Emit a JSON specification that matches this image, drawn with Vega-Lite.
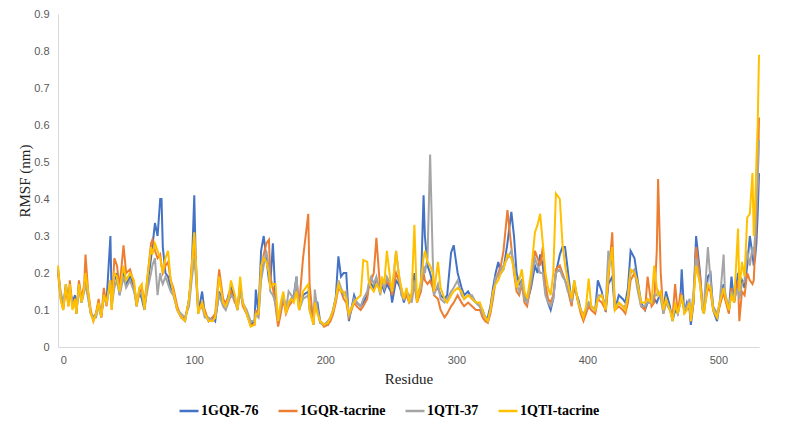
{
"$schema": "https://vega.github.io/schema/vega-lite/v6.json",
"width": 701, "height": 333,
"autosize": "none",
"padding": {"left": 58, "top": 14, "right": 30, "bottom": 85},
"background": "white",
"config": {"view": {"stroke": null}},
"data": {"values": [
{"r":-4,"1GQR-76":0.21,"1GQR-tacrine":0.2,"1QTI-37":0.21,"1QTI-tacrine":0.22},
{"r":-2,"1GQR-76":0.14,"1GQR-tacrine":0.13,"1QTI-37":0.15,"1QTI-tacrine":0.13},
{"r":0,"1GQR-76":0.11,"1GQR-tacrine":0.1,"1QTI-37":0.12,"1QTI-tacrine":0.1},
{"r":2,"1GQR-76":0.17,"1GQR-tacrine":0.16,"1QTI-37":0.15,"1QTI-tacrine":0.17},
{"r":4,"1GQR-76":0.12,"1GQR-tacrine":0.11,"1QTI-37":0.13,"1QTI-tacrine":0.11},
{"r":5,"1GQR-76":0.16,"1GQR-tacrine":0.18,"1QTI-37":0.15,"1QTI-tacrine":0.17},
{"r":7,"1GQR-76":0.12,"1GQR-tacrine":0.11,"1QTI-37":0.12,"1QTI-tacrine":0.1},
{"r":9,"1GQR-76":0.14,"1GQR-tacrine":0.13,"1QTI-37":0.12,"1QTI-tacrine":0.13},
{"r":10,"1GQR-76":0.09,"1GQR-tacrine":0.09,"1QTI-37":0.1,"1QTI-tacrine":0.09},
{"r":12,"1GQR-76":0.17,"1GQR-tacrine":0.18,"1QTI-37":0.16,"1QTI-tacrine":0.17},
{"r":14,"1GQR-76":0.12,"1GQR-tacrine":0.13,"1QTI-37":0.12,"1QTI-tacrine":0.12},
{"r":16,"1GQR-76":0.16,"1GQR-tacrine":0.17,"1QTI-37":0.15,"1QTI-tacrine":0.16},
{"r":17,"1GQR-76":0.19,"1GQR-tacrine":0.25,"1QTI-37":0.17,"1QTI-tacrine":0.2},
{"r":19,"1GQR-76":0.14,"1GQR-tacrine":0.15,"1QTI-37":0.13,"1QTI-tacrine":0.15},
{"r":21,"1GQR-76":0.09,"1GQR-tacrine":0.1,"1QTI-37":0.09,"1QTI-tacrine":0.09},
{"r":23,"1GQR-76":0.08,"1GQR-tacrine":0.07,"1QTI-37":0.08,"1QTI-tacrine":0.07},
{"r":25,"1GQR-76":0.09,"1GQR-tacrine":0.09,"1QTI-37":0.08,"1QTI-tacrine":0.09},
{"r":27,"1GQR-76":0.12,"1GQR-tacrine":0.13,"1QTI-37":0.11,"1QTI-tacrine":0.12},
{"r":29,"1GQR-76":0.08,"1GQR-tacrine":0.08,"1QTI-37":0.09,"1QTI-tacrine":0.08},
{"r":31,"1GQR-76":0.14,"1GQR-tacrine":0.16,"1QTI-37":0.13,"1QTI-tacrine":0.14},
{"r":33,"1GQR-76":0.12,"1GQR-tacrine":0.11,"1QTI-37":0.12,"1QTI-tacrine":0.12},
{"r":36,"1GQR-76":0.3,"1GQR-tacrine":0.18,"1QTI-37":0.17,"1QTI-tacrine":0.18},
{"r":37,"1GQR-76":0.12,"1GQR-tacrine":0.1,"1QTI-37":0.11,"1QTI-tacrine":0.1},
{"r":39,"1GQR-76":0.18,"1GQR-tacrine":0.24,"1QTI-37":0.16,"1QTI-tacrine":0.2},
{"r":41,"1GQR-76":0.2,"1GQR-tacrine":0.22,"1QTI-37":0.18,"1QTI-tacrine":0.19},
{"r":43,"1GQR-76":0.14,"1GQR-tacrine":0.16,"1QTI-37":0.14,"1QTI-tacrine":0.15},
{"r":46,"1GQR-76":0.21,"1GQR-tacrine":0.275,"1QTI-37":0.19,"1QTI-tacrine":0.22},
{"r":48,"1GQR-76":0.17,"1GQR-tacrine":0.2,"1QTI-37":0.16,"1QTI-tacrine":0.18},
{"r":51,"1GQR-76":0.19,"1GQR-tacrine":0.21,"1QTI-37":0.18,"1QTI-tacrine":0.2},
{"r":54,"1GQR-76":0.16,"1GQR-tacrine":0.17,"1QTI-37":0.15,"1QTI-tacrine":0.18},
{"r":56,"1GQR-76":0.11,"1GQR-tacrine":0.12,"1QTI-37":0.12,"1QTI-tacrine":0.11},
{"r":58,"1GQR-76":0.15,"1GQR-tacrine":0.14,"1QTI-37":0.15,"1QTI-tacrine":0.16},
{"r":60,"1GQR-76":0.13,"1GQR-tacrine":0.16,"1QTI-37":0.14,"1QTI-tacrine":0.17},
{"r":62,"1GQR-76":0.1,"1GQR-tacrine":0.12,"1QTI-37":0.11,"1QTI-tacrine":0.1},
{"r":64,"1GQR-76":0.16,"1GQR-tacrine":0.18,"1QTI-37":0.15,"1QTI-tacrine":0.18},
{"r":67,"1GQR-76":0.24,"1GQR-tacrine":0.28,"1QTI-37":0.2,"1QTI-tacrine":0.27},
{"r":68,"1GQR-76":0.27,"1GQR-tacrine":0.29,"1QTI-37":0.22,"1QTI-tacrine":0.25},
{"r":70,"1GQR-76":0.335,"1GQR-tacrine":0.26,"1QTI-37":0.24,"1QTI-tacrine":0.28},
{"r":72,"1GQR-76":0.3,"1GQR-tacrine":0.24,"1QTI-37":0.14,"1QTI-tacrine":0.26},
{"r":74,"1GQR-76":0.4,"1GQR-tacrine":0.25,"1QTI-37":0.2,"1QTI-tacrine":0.24},
{"r":75,"1GQR-76":0.4,"1GQR-tacrine":0.22,"1QTI-37":0.18,"1QTI-tacrine":0.22},
{"r":76,"1GQR-76":0.27,"1GQR-tacrine":0.2,"1QTI-37":0.17,"1QTI-tacrine":0.2},
{"r":78,"1GQR-76":0.2,"1GQR-tacrine":0.22,"1QTI-37":0.19,"1QTI-tacrine":0.24},
{"r":80,"1GQR-76":0.19,"1GQR-tacrine":0.23,"1QTI-37":0.17,"1QTI-tacrine":0.26},
{"r":82,"1GQR-76":0.16,"1GQR-tacrine":0.18,"1QTI-37":0.15,"1QTI-tacrine":0.18},
{"r":84,"1GQR-76":0.15,"1GQR-tacrine":0.16,"1QTI-37":0.14,"1QTI-tacrine":0.15},
{"r":87,"1GQR-76":0.1,"1GQR-tacrine":0.11,"1QTI-37":0.1,"1QTI-tacrine":0.1},
{"r":90,"1GQR-76":0.08,"1GQR-tacrine":0.08,"1QTI-37":0.09,"1QTI-tacrine":0.08},
{"r":93,"1GQR-76":0.07,"1GQR-tacrine":0.08,"1QTI-37":0.08,"1QTI-tacrine":0.07},
{"r":96,"1GQR-76":0.13,"1GQR-tacrine":0.12,"1QTI-37":0.11,"1QTI-tacrine":0.13},
{"r":98,"1GQR-76":0.2,"1GQR-tacrine":0.22,"1QTI-37":0.18,"1QTI-tacrine":0.21},
{"r":100,"1GQR-76":0.41,"1GQR-tacrine":0.3,"1QTI-37":0.24,"1QTI-tacrine":0.31},
{"r":101,"1GQR-76":0.25,"1GQR-tacrine":0.22,"1QTI-37":0.2,"1QTI-tacrine":0.25},
{"r":103,"1GQR-76":0.09,"1GQR-tacrine":0.1,"1QTI-37":0.1,"1QTI-tacrine":0.09},
{"r":106,"1GQR-76":0.15,"1GQR-tacrine":0.12,"1QTI-37":0.11,"1QTI-tacrine":0.12},
{"r":108,"1GQR-76":0.09,"1GQR-tacrine":0.1,"1QTI-37":0.08,"1QTI-tacrine":0.09},
{"r":111,"1GQR-76":0.07,"1GQR-tacrine":0.07,"1QTI-37":0.08,"1QTI-tacrine":0.07},
{"r":114,"1GQR-76":0.08,"1GQR-tacrine":0.08,"1QTI-37":0.07,"1QTI-tacrine":0.07},
{"r":116,"1GQR-76":0.07,"1GQR-tacrine":0.09,"1QTI-37":0.08,"1QTI-tacrine":0.08},
{"r":119,"1GQR-76":0.15,"1GQR-tacrine":0.21,"1QTI-37":0.14,"1QTI-tacrine":0.19},
{"r":122,"1GQR-76":0.12,"1GQR-tacrine":0.13,"1QTI-37":0.11,"1QTI-tacrine":0.12},
{"r":124,"1GQR-76":0.11,"1GQR-tacrine":0.12,"1QTI-37":0.1,"1QTI-tacrine":0.11},
{"r":126,"1GQR-76":0.14,"1GQR-tacrine":0.13,"1QTI-37":0.12,"1QTI-tacrine":0.13},
{"r":128,"1GQR-76":0.16,"1GQR-tacrine":0.15,"1QTI-37":0.14,"1QTI-tacrine":0.18},
{"r":131,"1GQR-76":0.13,"1GQR-tacrine":0.12,"1QTI-37":0.13,"1QTI-tacrine":0.14},
{"r":133,"1GQR-76":0.1,"1GQR-tacrine":0.11,"1QTI-37":0.1,"1QTI-tacrine":0.1},
{"r":135,"1GQR-76":0.17,"1GQR-tacrine":0.16,"1QTI-37":0.15,"1QTI-tacrine":0.19},
{"r":137,"1GQR-76":0.12,"1GQR-tacrine":0.11,"1QTI-37":0.12,"1QTI-tacrine":0.12},
{"r":140,"1GQR-76":0.09,"1GQR-tacrine":0.09,"1QTI-37":0.1,"1QTI-tacrine":0.09},
{"r":143,"1GQR-76":0.06,"1GQR-tacrine":0.06,"1QTI-37":0.07,"1QTI-tacrine":0.055},
{"r":146,"1GQR-76":0.07,"1GQR-tacrine":0.06,"1QTI-37":0.07,"1QTI-tacrine":0.06},
{"r":147,"1GQR-76":0.155,"1GQR-tacrine":0.1,"1QTI-37":0.09,"1QTI-tacrine":0.09},
{"r":149,"1GQR-76":0.09,"1GQR-tacrine":0.08,"1QTI-37":0.08,"1QTI-tacrine":0.09},
{"r":151,"1GQR-76":0.26,"1GQR-tacrine":0.2,"1QTI-37":0.18,"1QTI-tacrine":0.22},
{"r":153,"1GQR-76":0.3,"1GQR-tacrine":0.25,"1QTI-37":0.22,"1QTI-tacrine":0.24},
{"r":155,"1GQR-76":0.24,"1GQR-tacrine":0.28,"1QTI-37":0.26,"1QTI-tacrine":0.23},
{"r":157,"1GQR-76":0.18,"1GQR-tacrine":0.29,"1QTI-37":0.21,"1QTI-tacrine":0.2},
{"r":158,"1GQR-76":0.17,"1GQR-tacrine":0.19,"1QTI-37":0.15,"1QTI-tacrine":0.16},
{"r":160,"1GQR-76":0.28,"1GQR-tacrine":0.16,"1QTI-37":0.14,"1QTI-tacrine":0.17},
{"r":162,"1GQR-76":0.13,"1GQR-tacrine":0.11,"1QTI-37":0.12,"1QTI-tacrine":0.17},
{"r":164,"1GQR-76":0.08,"1GQR-tacrine":0.055,"1QTI-37":0.07,"1QTI-tacrine":0.07},
{"r":166,"1GQR-76":0.1,"1GQR-tacrine":0.09,"1QTI-37":0.11,"1QTI-tacrine":0.12},
{"r":168,"1GQR-76":0.14,"1GQR-tacrine":0.13,"1QTI-37":0.14,"1QTI-tacrine":0.15},
{"r":170,"1GQR-76":0.1,"1GQR-tacrine":0.09,"1QTI-37":0.1,"1QTI-tacrine":0.09},
{"r":172,"1GQR-76":0.12,"1GQR-tacrine":0.11,"1QTI-37":0.15,"1QTI-tacrine":0.12},
{"r":174,"1GQR-76":0.13,"1GQR-tacrine":0.12,"1QTI-37":0.14,"1QTI-tacrine":0.13},
{"r":176,"1GQR-76":0.14,"1GQR-tacrine":0.13,"1QTI-37":0.13,"1QTI-tacrine":0.12},
{"r":178,"1GQR-76":0.19,"1GQR-tacrine":0.16,"1QTI-37":0.19,"1QTI-tacrine":0.15},
{"r":180,"1GQR-76":0.1,"1GQR-tacrine":0.11,"1QTI-37":0.1,"1QTI-tacrine":0.1},
{"r":183,"1GQR-76":0.14,"1GQR-tacrine":0.24,"1QTI-37":0.13,"1QTI-tacrine":0.15},
{"r":187,"1GQR-76":0.15,"1GQR-tacrine":0.36,"1QTI-37":0.14,"1QTI-tacrine":0.17},
{"r":188,"1GQR-76":0.11,"1GQR-tacrine":0.17,"1QTI-37":0.1,"1QTI-tacrine":0.1},
{"r":191,"1GQR-76":0.07,"1GQR-tacrine":0.06,"1QTI-37":0.06,"1QTI-tacrine":0.06},
{"r":192,"1GQR-76":0.12,"1GQR-tacrine":0.11,"1QTI-37":0.155,"1QTI-tacrine":0.12},
{"r":194,"1GQR-76":0.12,"1GQR-tacrine":0.1,"1QTI-37":0.1,"1QTI-tacrine":0.09},
{"r":196,"1GQR-76":0.07,"1GQR-tacrine":0.07,"1QTI-37":0.065,"1QTI-tacrine":0.07},
{"r":199,"1GQR-76":0.06,"1GQR-tacrine":0.055,"1QTI-37":0.06,"1QTI-tacrine":0.06},
{"r":202,"1GQR-76":0.06,"1GQR-tacrine":0.06,"1QTI-37":0.07,"1QTI-tacrine":0.065},
{"r":204,"1GQR-76":0.08,"1GQR-tacrine":0.07,"1QTI-37":0.08,"1QTI-tacrine":0.08},
{"r":206,"1GQR-76":0.1,"1GQR-tacrine":0.09,"1QTI-37":0.1,"1QTI-tacrine":0.1},
{"r":208,"1GQR-76":0.135,"1GQR-tacrine":0.12,"1QTI-37":0.13,"1QTI-tacrine":0.13},
{"r":210,"1GQR-76":0.245,"1GQR-tacrine":0.16,"1QTI-37":0.18,"1QTI-tacrine":0.17},
{"r":212,"1GQR-76":0.19,"1GQR-tacrine":0.15,"1QTI-37":0.16,"1QTI-tacrine":0.15},
{"r":214,"1GQR-76":0.2,"1GQR-tacrine":0.13,"1QTI-37":0.14,"1QTI-tacrine":0.15},
{"r":216,"1GQR-76":0.2,"1GQR-tacrine":0.12,"1QTI-37":0.15,"1QTI-tacrine":0.13},
{"r":218,"1GQR-76":0.07,"1GQR-tacrine":0.08,"1QTI-37":0.08,"1QTI-tacrine":0.09},
{"r":222,"1GQR-76":0.14,"1GQR-tacrine":0.12,"1QTI-37":0.13,"1QTI-tacrine":0.12},
{"r":224,"1GQR-76":0.12,"1GQR-tacrine":0.11,"1QTI-37":0.12,"1QTI-tacrine":0.13},
{"r":227,"1GQR-76":0.11,"1GQR-tacrine":0.1,"1QTI-37":0.11,"1QTI-tacrine":0.14},
{"r":229,"1GQR-76":0.12,"1GQR-tacrine":0.11,"1QTI-37":0.13,"1QTI-tacrine":0.235},
{"r":232,"1GQR-76":0.14,"1GQR-tacrine":0.13,"1QTI-37":0.15,"1QTI-tacrine":0.23},
{"r":233,"1GQR-76":0.16,"1GQR-tacrine":0.16,"1QTI-37":0.17,"1QTI-tacrine":0.18},
{"r":235,"1GQR-76":0.17,"1GQR-tacrine":0.18,"1QTI-37":0.19,"1QTI-tacrine":0.16},
{"r":237,"1GQR-76":0.16,"1GQR-tacrine":0.2,"1QTI-37":0.17,"1QTI-tacrine":0.15},
{"r":239,"1GQR-76":0.18,"1GQR-tacrine":0.295,"1QTI-37":0.19,"1QTI-tacrine":0.17},
{"r":242,"1GQR-76":0.15,"1GQR-tacrine":0.15,"1QTI-37":0.14,"1QTI-tacrine":0.15},
{"r":243,"1GQR-76":0.17,"1GQR-tacrine":0.18,"1QTI-37":0.18,"1QTI-tacrine":0.19},
{"r":245,"1GQR-76":0.15,"1GQR-tacrine":0.16,"1QTI-37":0.16,"1QTI-tacrine":0.17},
{"r":247,"1GQR-76":0.17,"1GQR-tacrine":0.18,"1QTI-37":0.19,"1QTI-tacrine":0.26},
{"r":250,"1GQR-76":0.15,"1GQR-tacrine":0.16,"1QTI-37":0.17,"1QTI-tacrine":0.17},
{"r":251,"1GQR-76":0.12,"1GQR-tacrine":0.14,"1QTI-37":0.15,"1QTI-tacrine":0.15},
{"r":254,"1GQR-76":0.18,"1GQR-tacrine":0.2,"1QTI-37":0.26,"1QTI-tacrine":0.26},
{"r":256,"1GQR-76":0.17,"1GQR-tacrine":0.18,"1QTI-37":0.2,"1QTI-tacrine":0.2},
{"r":258,"1GQR-76":0.15,"1GQR-tacrine":0.16,"1QTI-37":0.14,"1QTI-tacrine":0.16},
{"r":260,"1GQR-76":0.12,"1GQR-tacrine":0.13,"1QTI-37":0.13,"1QTI-tacrine":0.13},
{"r":262,"1GQR-76":0.15,"1GQR-tacrine":0.14,"1QTI-37":0.15,"1QTI-tacrine":0.16},
{"r":264,"1GQR-76":0.13,"1GQR-tacrine":0.12,"1QTI-37":0.14,"1QTI-tacrine":0.12},
{"r":266,"1GQR-76":0.14,"1GQR-tacrine":0.13,"1QTI-37":0.12,"1QTI-tacrine":0.15},
{"r":268,"1GQR-76":0.2,"1GQR-tacrine":0.17,"1QTI-37":0.18,"1QTI-tacrine":0.33},
{"r":270,"1GQR-76":0.13,"1GQR-tacrine":0.12,"1QTI-37":0.13,"1QTI-tacrine":0.12},
{"r":273,"1GQR-76":0.17,"1GQR-tacrine":0.15,"1QTI-37":0.16,"1QTI-tacrine":0.18},
{"r":275,"1GQR-76":0.41,"1GQR-tacrine":0.2,"1QTI-37":0.22,"1QTI-tacrine":0.24},
{"r":276,"1GQR-76":0.3,"1GQR-tacrine":0.18,"1QTI-37":0.2,"1QTI-tacrine":0.26},
{"r":278,"1GQR-76":0.22,"1GQR-tacrine":0.17,"1QTI-37":0.24,"1QTI-tacrine":0.23},
{"r":280,"1GQR-76":0.2,"1GQR-tacrine":0.18,"1QTI-37":0.52,"1QTI-tacrine":0.22},
{"r":282,"1GQR-76":0.17,"1GQR-tacrine":0.16,"1QTI-37":0.24,"1QTI-tacrine":0.2},
{"r":283,"1GQR-76":0.15,"1GQR-tacrine":0.14,"1QTI-37":0.14,"1QTI-tacrine":0.15},
{"r":286,"1GQR-76":0.16,"1GQR-tacrine":0.13,"1QTI-37":0.17,"1QTI-tacrine":0.23},
{"r":288,"1GQR-76":0.14,"1GQR-tacrine":0.1,"1QTI-37":0.13,"1QTI-tacrine":0.16},
{"r":291,"1GQR-76":0.13,"1GQR-tacrine":0.08,"1QTI-37":0.12,"1QTI-tacrine":0.13},
{"r":293,"1GQR-76":0.14,"1GQR-tacrine":0.09,"1QTI-37":0.13,"1QTI-tacrine":0.12},
{"r":296,"1GQR-76":0.255,"1GQR-tacrine":0.11,"1QTI-37":0.15,"1QTI-tacrine":0.14},
{"r":298,"1GQR-76":0.275,"1GQR-tacrine":0.12,"1QTI-37":0.16,"1QTI-tacrine":0.15},
{"r":301,"1GQR-76":0.2,"1GQR-tacrine":0.14,"1QTI-37":0.18,"1QTI-tacrine":0.16},
{"r":304,"1GQR-76":0.16,"1GQR-tacrine":0.12,"1QTI-37":0.14,"1QTI-tacrine":0.15},
{"r":306,"1GQR-76":0.14,"1GQR-tacrine":0.11,"1QTI-37":0.13,"1QTI-tacrine":0.13},
{"r":309,"1GQR-76":0.15,"1GQR-tacrine":0.12,"1QTI-37":0.14,"1QTI-tacrine":0.14},
{"r":312,"1GQR-76":0.13,"1GQR-tacrine":0.11,"1QTI-37":0.14,"1QTI-tacrine":0.13},
{"r":315,"1GQR-76":0.12,"1GQR-tacrine":0.1,"1QTI-37":0.12,"1QTI-tacrine":0.12},
{"r":318,"1GQR-76":0.11,"1GQR-tacrine":0.1,"1QTI-37":0.11,"1QTI-tacrine":0.12},
{"r":320,"1GQR-76":0.1,"1GQR-tacrine":0.08,"1QTI-37":0.09,"1QTI-tacrine":0.1},
{"r":322,"1GQR-76":0.08,"1GQR-tacrine":0.07,"1QTI-37":0.08,"1QTI-tacrine":0.08},
{"r":324,"1GQR-76":0.08,"1GQR-tacrine":0.065,"1QTI-37":0.07,"1QTI-tacrine":0.07},
{"r":326,"1GQR-76":0.11,"1GQR-tacrine":0.09,"1QTI-37":0.1,"1QTI-tacrine":0.1},
{"r":328,"1GQR-76":0.16,"1GQR-tacrine":0.13,"1QTI-37":0.14,"1QTI-tacrine":0.15},
{"r":330,"1GQR-76":0.2,"1GQR-tacrine":0.18,"1QTI-37":0.19,"1QTI-tacrine":0.17},
{"r":332,"1GQR-76":0.23,"1GQR-tacrine":0.2,"1QTI-37":0.19,"1QTI-tacrine":0.18},
{"r":334,"1GQR-76":0.2,"1GQR-tacrine":0.22,"1QTI-37":0.21,"1QTI-tacrine":0.2},
{"r":336,"1GQR-76":0.21,"1GQR-tacrine":0.26,"1QTI-37":0.22,"1QTI-tacrine":0.21},
{"r":339,"1GQR-76":0.28,"1GQR-tacrine":0.37,"1QTI-37":0.24,"1QTI-tacrine":0.25},
{"r":342,"1GQR-76":0.365,"1GQR-tacrine":0.27,"1QTI-37":0.26,"1QTI-tacrine":0.24},
{"r":344,"1GQR-76":0.3,"1GQR-tacrine":0.2,"1QTI-37":0.22,"1QTI-tacrine":0.21},
{"r":346,"1GQR-76":0.2,"1GQR-tacrine":0.15,"1QTI-37":0.17,"1QTI-tacrine":0.16},
{"r":348,"1GQR-76":0.17,"1GQR-tacrine":0.14,"1QTI-37":0.15,"1QTI-tacrine":0.18},
{"r":350,"1GQR-76":0.18,"1GQR-tacrine":0.17,"1QTI-37":0.18,"1QTI-tacrine":0.21},
{"r":352,"1GQR-76":0.14,"1GQR-tacrine":0.12,"1QTI-37":0.13,"1QTI-tacrine":0.15},
{"r":354,"1GQR-76":0.12,"1GQR-tacrine":0.11,"1QTI-37":0.12,"1QTI-tacrine":0.13},
{"r":357,"1GQR-76":0.16,"1GQR-tacrine":0.17,"1QTI-37":0.18,"1QTI-tacrine":0.2},
{"r":360,"1GQR-76":0.22,"1GQR-tacrine":0.26,"1QTI-37":0.24,"1QTI-tacrine":0.31},
{"r":362,"1GQR-76":0.2,"1GQR-tacrine":0.24,"1QTI-37":0.22,"1QTI-tacrine":0.33},
{"r":364,"1GQR-76":0.25,"1GQR-tacrine":0.22,"1QTI-37":0.2,"1QTI-tacrine":0.36},
{"r":366,"1GQR-76":0.22,"1GQR-tacrine":0.27,"1QTI-37":0.2,"1QTI-tacrine":0.28},
{"r":368,"1GQR-76":0.15,"1GQR-tacrine":0.17,"1QTI-37":0.14,"1QTI-tacrine":0.2},
{"r":370,"1GQR-76":0.12,"1GQR-tacrine":0.13,"1QTI-37":0.12,"1QTI-tacrine":0.16},
{"r":372,"1GQR-76":0.1,"1GQR-tacrine":0.12,"1QTI-37":0.11,"1QTI-tacrine":0.14},
{"r":374,"1GQR-76":0.13,"1GQR-tacrine":0.14,"1QTI-37":0.13,"1QTI-tacrine":0.2},
{"r":376,"1GQR-76":0.2,"1GQR-tacrine":0.21,"1QTI-37":0.2,"1QTI-tacrine":0.415},
{"r":379,"1GQR-76":0.25,"1GQR-tacrine":0.22,"1QTI-37":0.21,"1QTI-tacrine":0.4},
{"r":381,"1GQR-76":0.27,"1GQR-tacrine":0.2,"1QTI-37":0.19,"1QTI-tacrine":0.28},
{"r":383,"1GQR-76":0.27,"1GQR-tacrine":0.18,"1QTI-37":0.18,"1QTI-tacrine":0.22},
{"r":385,"1GQR-76":0.21,"1GQR-tacrine":0.16,"1QTI-37":0.15,"1QTI-tacrine":0.18},
{"r":386,"1GQR-76":0.18,"1GQR-tacrine":0.14,"1QTI-37":0.15,"1QTI-tacrine":0.16},
{"r":388,"1GQR-76":0.12,"1GQR-tacrine":0.11,"1QTI-37":0.12,"1QTI-tacrine":0.13},
{"r":390,"1GQR-76":0.16,"1GQR-tacrine":0.17,"1QTI-37":0.18,"1QTI-tacrine":0.18},
{"r":393,"1GQR-76":0.13,"1GQR-tacrine":0.12,"1QTI-37":0.12,"1QTI-tacrine":0.12},
{"r":395,"1GQR-76":0.1,"1GQR-tacrine":0.09,"1QTI-37":0.1,"1QTI-tacrine":0.1},
{"r":397,"1GQR-76":0.08,"1GQR-tacrine":0.07,"1QTI-37":0.09,"1QTI-tacrine":0.08},
{"r":399,"1GQR-76":0.1,"1GQR-tacrine":0.09,"1QTI-37":0.1,"1QTI-tacrine":0.11},
{"r":401,"1GQR-76":0.12,"1GQR-tacrine":0.11,"1QTI-37":0.12,"1QTI-tacrine":0.185},
{"r":403,"1GQR-76":0.11,"1GQR-tacrine":0.1,"1QTI-37":0.11,"1QTI-tacrine":0.11},
{"r":406,"1GQR-76":0.1,"1GQR-tacrine":0.09,"1QTI-37":0.1,"1QTI-tacrine":0.1},
{"r":408,"1GQR-76":0.18,"1GQR-tacrine":0.13,"1QTI-37":0.14,"1QTI-tacrine":0.13},
{"r":411,"1GQR-76":0.15,"1GQR-tacrine":0.12,"1QTI-37":0.14,"1QTI-tacrine":0.14},
{"r":414,"1GQR-76":0.095,"1GQR-tacrine":0.1,"1QTI-37":0.11,"1QTI-tacrine":0.1},
{"r":416,"1GQR-76":0.17,"1GQR-tacrine":0.18,"1QTI-37":0.26,"1QTI-tacrine":0.2},
{"r":419,"1GQR-76":0.19,"1GQR-tacrine":0.31,"1QTI-37":0.22,"1QTI-tacrine":0.27},
{"r":421,"1GQR-76":0.1,"1GQR-tacrine":0.1,"1QTI-37":0.11,"1QTI-tacrine":0.1},
{"r":424,"1GQR-76":0.14,"1GQR-tacrine":0.11,"1QTI-37":0.12,"1QTI-tacrine":0.12},
{"r":427,"1GQR-76":0.13,"1GQR-tacrine":0.1,"1QTI-37":0.11,"1QTI-tacrine":0.11},
{"r":429,"1GQR-76":0.12,"1GQR-tacrine":0.09,"1QTI-37":0.11,"1QTI-tacrine":0.1},
{"r":431,"1GQR-76":0.16,"1GQR-tacrine":0.12,"1QTI-37":0.14,"1QTI-tacrine":0.14},
{"r":433,"1GQR-76":0.26,"1GQR-tacrine":0.18,"1QTI-37":0.2,"1QTI-tacrine":0.21},
{"r":436,"1GQR-76":0.24,"1GQR-tacrine":0.2,"1QTI-37":0.21,"1QTI-tacrine":0.2},
{"r":438,"1GQR-76":0.19,"1GQR-tacrine":0.17,"1QTI-37":0.16,"1QTI-tacrine":0.18},
{"r":441,"1GQR-76":0.12,"1GQR-tacrine":0.11,"1QTI-37":0.11,"1QTI-tacrine":0.12},
{"r":444,"1GQR-76":0.1,"1GQR-tacrine":0.1,"1QTI-37":0.11,"1QTI-tacrine":0.12},
{"r":446,"1GQR-76":0.12,"1GQR-tacrine":0.19,"1QTI-37":0.12,"1QTI-tacrine":0.13},
{"r":449,"1GQR-76":0.12,"1GQR-tacrine":0.11,"1QTI-37":0.12,"1QTI-tacrine":0.12},
{"r":451,"1GQR-76":0.13,"1GQR-tacrine":0.12,"1QTI-37":0.14,"1QTI-tacrine":0.22},
{"r":453,"1GQR-76":0.12,"1GQR-tacrine":0.26,"1QTI-37":0.14,"1QTI-tacrine":0.16},
{"r":454,"1GQR-76":0.13,"1GQR-tacrine":0.454,"1QTI-37":0.15,"1QTI-tacrine":0.14},
{"r":456,"1GQR-76":0.14,"1GQR-tacrine":0.2,"1QTI-37":0.13,"1QTI-tacrine":0.15},
{"r":458,"1GQR-76":0.1,"1GQR-tacrine":0.09,"1QTI-37":0.09,"1QTI-tacrine":0.1},
{"r":460,"1GQR-76":0.15,"1GQR-tacrine":0.12,"1QTI-37":0.12,"1QTI-tacrine":0.13},
{"r":463,"1GQR-76":0.11,"1GQR-tacrine":0.1,"1QTI-37":0.1,"1QTI-tacrine":0.1},
{"r":465,"1GQR-76":0.07,"1GQR-tacrine":0.08,"1QTI-37":0.08,"1QTI-tacrine":0.07},
{"r":467,"1GQR-76":0.1,"1GQR-tacrine":0.17,"1QTI-37":0.11,"1QTI-tacrine":0.12},
{"r":469,"1GQR-76":0.09,"1GQR-tacrine":0.09,"1QTI-37":0.09,"1QTI-tacrine":0.09},
{"r":471,"1GQR-76":0.13,"1GQR-tacrine":0.145,"1QTI-37":0.12,"1QTI-tacrine":0.12},
{"r":472,"1GQR-76":0.21,"1GQR-tacrine":0.13,"1QTI-37":0.13,"1QTI-tacrine":0.14},
{"r":474,"1GQR-76":0.09,"1GQR-tacrine":0.1,"1QTI-37":0.1,"1QTI-tacrine":0.09},
{"r":476,"1GQR-76":0.12,"1GQR-tacrine":0.11,"1QTI-37":0.11,"1QTI-tacrine":0.1},
{"r":478,"1GQR-76":0.1,"1GQR-tacrine":0.11,"1QTI-37":0.13,"1QTI-tacrine":0.12},
{"r":479,"1GQR-76":0.06,"1GQR-tacrine":0.07,"1QTI-37":0.08,"1QTI-tacrine":0.07},
{"r":481,"1GQR-76":0.12,"1GQR-tacrine":0.12,"1QTI-37":0.15,"1QTI-tacrine":0.13},
{"r":483,"1GQR-76":0.3,"1GQR-tacrine":0.27,"1QTI-37":0.24,"1QTI-tacrine":0.22},
{"r":486,"1GQR-76":0.2,"1GQR-tacrine":0.19,"1QTI-37":0.17,"1QTI-tacrine":0.17},
{"r":488,"1GQR-76":0.1,"1GQR-tacrine":0.11,"1QTI-37":0.1,"1QTI-tacrine":0.1},
{"r":489,"1GQR-76":0.09,"1GQR-tacrine":0.1,"1QTI-37":0.11,"1QTI-tacrine":0.09},
{"r":492,"1GQR-76":0.19,"1GQR-tacrine":0.16,"1QTI-37":0.27,"1QTI-tacrine":0.17},
{"r":494,"1GQR-76":0.2,"1GQR-tacrine":0.15,"1QTI-37":0.18,"1QTI-tacrine":0.16},
{"r":496,"1GQR-76":0.1,"1GQR-tacrine":0.1,"1QTI-37":0.11,"1QTI-tacrine":0.1},
{"r":499,"1GQR-76":0.07,"1GQR-tacrine":0.08,"1QTI-37":0.09,"1QTI-tacrine":0.08},
{"r":501,"1GQR-76":0.12,"1GQR-tacrine":0.11,"1QTI-37":0.12,"1QTI-tacrine":0.12},
{"r":504,"1GQR-76":0.17,"1GQR-tacrine":0.15,"1QTI-37":0.25,"1QTI-tacrine":0.16},
{"r":505,"1GQR-76":0.14,"1GQR-tacrine":0.13,"1QTI-37":0.15,"1QTI-tacrine":0.14},
{"r":508,"1GQR-76":0.1,"1GQR-tacrine":0.09,"1QTI-37":0.1,"1QTI-tacrine":0.1},
{"r":510,"1GQR-76":0.19,"1GQR-tacrine":0.16,"1QTI-37":0.15,"1QTI-tacrine":0.14},
{"r":512,"1GQR-76":0.12,"1GQR-tacrine":0.12,"1QTI-37":0.13,"1QTI-tacrine":0.12},
{"r":515,"1GQR-76":0.2,"1GQR-tacrine":0.18,"1QTI-37":0.16,"1QTI-tacrine":0.32},
{"r":516,"1GQR-76":0.14,"1GQR-tacrine":0.07,"1QTI-37":0.13,"1QTI-tacrine":0.15},
{"r":518,"1GQR-76":0.18,"1GQR-tacrine":0.15,"1QTI-37":0.17,"1QTI-tacrine":0.23},
{"r":520,"1GQR-76":0.16,"1GQR-tacrine":0.14,"1QTI-37":0.18,"1QTI-tacrine":0.19},
{"r":522,"1GQR-76":0.22,"1GQR-tacrine":0.2,"1QTI-37":0.26,"1QTI-tacrine":0.35},
{"r":524,"1GQR-76":0.3,"1GQR-tacrine":0.18,"1QTI-37":0.22,"1QTI-tacrine":0.36},
{"r":526,"1GQR-76":0.25,"1GQR-tacrine":0.17,"1QTI-37":0.27,"1QTI-tacrine":0.47},
{"r":527,"1GQR-76":0.22,"1GQR-tacrine":0.18,"1QTI-37":0.25,"1QTI-tacrine":0.3},
{"r":528,"1GQR-76":0.24,"1GQR-tacrine":0.26,"1QTI-37":0.3,"1QTI-tacrine":0.38},
{"r":529,"1GQR-76":0.28,"1GQR-tacrine":0.35,"1QTI-37":0.38,"1QTI-tacrine":0.5},
{"r":530,"1GQR-76":0.36,"1GQR-tacrine":0.45,"1QTI-37":0.45,"1QTI-tacrine":0.6},
{"r":531,"1GQR-76":0.47,"1GQR-tacrine":0.62,"1QTI-37":0.56,"1QTI-tacrine":0.79}
]},
"transform": [{"fold": ["1GQR-76","1GQR-tacrine","1QTI-37","1QTI-tacrine"], "as": ["series","rmsf"]}],
"mark": {"type": "line", "strokeWidth": 2},
"encoding": {
"x": {"field": "r", "type": "quantitative",
 "scale": {"domain": [-4, 531], "nice": false, "zero": false},
 "axis": {"values": [0,100,200,300,400,500], "title": "Residue", "grid": false, "ticks": false,
  "domainColor": "#d9d9d9", "labelFont": "Liberation Sans", "labelFontSize": 11, "labelColor": "#595959", "labelPadding": 7,
  "titleFont": "Liberation Serif", "titleFontSize": 15, "titleFontWeight": "normal", "titleColor": "#222222", "titlePadding": 6}},
"y": {"field": "rmsf", "type": "quantitative",
 "scale": {"domain": [0, 0.9], "nice": false},
 "axis": {"values": [0,0.1,0.2,0.3,0.4,0.5,0.6,0.7,0.8,0.9], "format": "~g", "title": "RMSF (nm)", "grid": false, "ticks": false,
  "domainColor": "#d9d9d9", "labelFont": "Liberation Sans", "labelFontSize": 11, "labelColor": "#595959", "labelPadding": 9,
  "titleFont": "Liberation Serif", "titleFontSize": 15, "titleFontWeight": "normal", "titleColor": "#222222", "titlePadding": 1}},
"color": {"field": "series", "type": "nominal",
 "scale": {"domain": ["1GQR-76","1GQR-tacrine","1QTI-37","1QTI-tacrine"], "range": ["#4472C4","#ED7D31","#A5A5A5","#FFC000"]},
 "legend": {"orient": "none", "direction": "horizontal", "legendX": 120, "legendY": 386, "title": null,
  "symbolType": "stroke", "symbolSize": 361, "symbolStrokeWidth": 2.5,
  "labelFont": "Liberation Serif", "labelFontSize": 14, "labelFontWeight": "bold", "labelColor": "#000000",
  "columnPadding": 14, "labelOffset": 1}}
}
}
